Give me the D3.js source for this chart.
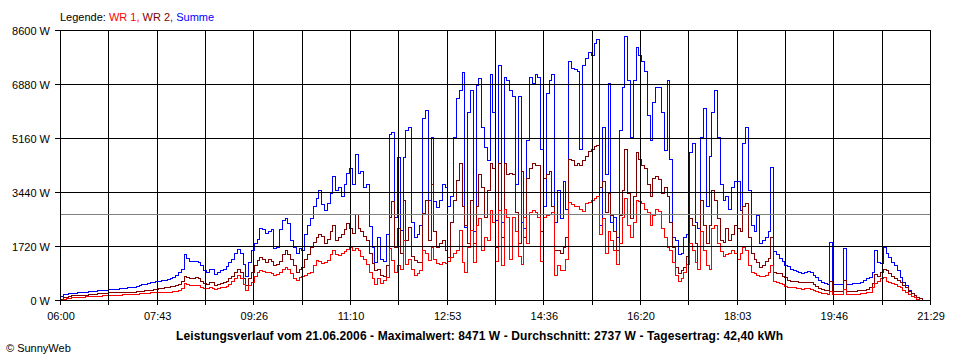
<!DOCTYPE html>
<html><head><meta charset="utf-8">
<script src="https://cdn.jsdelivr.net/npm/d3@7"></script>
<style>
body{margin:0;background:#fff;}
svg{display:block;}
text{font-family:"Liberation Sans",Arial,sans-serif;}
</style>
</head><body>
<svg id="chart" width="960" height="360"></svg>
<script>
// ---- data ----
const xTickLabels = ["06:00","07:43","09:26","11:10","12:53","14:36","16:20","18:03","19:46","21:29"];
const yTickValues = [0, 1720, 3440, 5160, 6880, 8600];
const spanMinutes = 929.5;      // 06:00 .. 21:29:30
const sampleMinutes = 3;        // one value every 3 minutes from 06:00
const averageW = 2737;
const legendItems = [["WR 1", "#ff0000"], ["WR 2", "#800000"], ["Summe", "#0000ff"]];

const summe = [
120,180,200,215,225,235,245,250,255,265,
280,290,300,305,315,320,330,340,345,350,
365,380,385,390,400,410,420,440,470,500,
520,540,560,580,600,615,630,650,670,700,
740,800,880,1000,1460,1350,1240,1230,1250,1220,
1100,950,900,1000,980,820,880,950,1000,1080,
1200,1320,1500,1640,1500,1150,750,1200,1600,1800,
1950,2300,2250,2130,2200,2250,1650,1680,2250,2550,
2600,2450,1900,1700,1500,1650,1600,2100,2400,2600,
3000,3250,3500,3050,2870,3100,3400,3950,3500,3600,
3300,3700,4050,4200,3700,4650,4050,4100,3600,3700,
2350,1700,1200,2000,1300,1250,2100,5300,5350,2650,
4550,2230,4550,5400,5500,2500,2000,2100,2400,5800,
6050,3200,5200,3150,2950,3200,3700,3600,3000,3300,
5200,6450,6700,7270,2335,6000,6700,2200,6850,7060,
5500,4880,4460,7200,6000,2550,7480,2500,7100,7000,
6700,6500,3700,6500,2500,2300,5100,7100,6900,7200,
7100,4800,3000,6600,7000,7200,2500,3500,2600,3800,
2900,7600,7400,7350,7300,4800,7500,7700,7900,7800,
8200,8300,2400,5500,4000,6900,2500,2650,2000,5400,
6800,8400,7000,5200,7000,8050,7800,7600,7300,5900,
5100,6300,6800,6800,6000,4780,7000,4500,2000,1900,
1450,1500,2000,2100,4700,5000,2500,2300,5200,6100,
3000,4600,6000,6700,5200,3700,3200,3300,2900,3600,
3800,3800,2870,5000,5500,3500,2400,2200,2700,1800,
1900,2000,2200,4250,1560,1480,1350,1250,1120,1070,
1000,960,920,880,870,880,930,900,800,720,
650,580,540,520,1850,500,500,510,520,1650,
520,520,530,540,550,584,637,690,742,900,
1600,1220,1170,1700,1490,1380,1220,1115,956,742,
584,478,318,212,160,106,50,10,0,0
];

const wr2 = [
20,80,110,130,145,155,160,165,170,175,
185,195,200,210,215,220,230,240,245,248,
250,255,258,260,262,265,270,280,290,300,
310,320,330,340,360,380,390,400,420,440,
460,490,520,600,760,720,700,710,720,700,
620,540,520,580,560,480,500,540,570,620,
700,780,900,1000,900,700,480,700,880,1100,
1270,1380,1300,1220,1300,1250,1120,1150,1250,1450,
1590,1450,1300,1120,900,980,1050,1300,1450,1700,
1850,2000,2100,2050,1800,1950,2200,2390,1900,2000,
2100,2250,2440,2300,2150,2750,2300,2200,2050,1900,
1500,1170,950,1000,800,750,1100,2650,3150,1700,
2300,1500,3200,1900,2340,1400,1270,1200,1200,2760,
3185,1900,3700,2200,1700,1800,1900,1600,1380,2500,
3185,3825,4350,3000,2400,1800,3200,1800,3000,4000,
3600,2650,3500,4350,4200,1700,4350,2000,4350,4000,
4050,4000,2800,1800,4100,2000,3900,4200,4350,4300,
4300,2200,3900,4000,4100,3000,1600,1600,1500,1700,
2000,4500,4450,4300,4350,4300,4450,4600,4750,4800,
4900,4950,3600,3800,2800,3400,2700,2200,1600,2700,
3500,4800,3400,2600,3300,4700,4500,4300,4200,3700,
3300,3900,3950,3850,3400,3600,3300,2500,1700,1050,
850,950,1050,1400,2600,2400,1800,1000,3200,2400,
1800,2400,3500,3200,2600,1900,1850,2300,1900,2100,
2400,2300,2200,3000,3100,2000,1500,1300,1200,1060,
1100,1250,1350,2000,900,870,850,780,720,650,
620,600,590,560,560,580,580,560,520,460,
380,350,330,320,600,300,290,290,290,650,
290,290,300,300,310,320,330,360,420,550,
830,780,900,1000,960,850,760,700,630,560,
480,400,300,230,160,100,50,10,0,0
];

const wr1 = [
0,30,50,70,80,90,100,105,110,115,
120,125,130,135,140,145,150,155,160,165,
170,175,178,180,185,190,195,200,210,220,
225,230,240,245,250,255,258,260,262,265,
280,300,330,380,530,500,480,480,480,470,
420,380,370,400,390,360,380,400,420,450,
520,600,700,790,700,500,330,480,580,750,
900,950,920,880,900,850,800,820,900,1000,
1060,980,850,700,640,720,780,800,850,900,
1100,1270,1250,1170,1200,1270,1450,1590,1450,1430,
1500,1550,1620,1700,1600,1650,1590,1400,1300,1150,
900,700,520,700,530,650,740,1650,1270,900,
1100,1000,1900,1150,1300,1000,800,850,950,1590,
1500,1270,1700,1300,1170,1150,1200,1170,1250,1380,
1500,1590,2230,1200,900,1700,2230,1200,2400,2600,
1600,2000,1900,2860,2500,1250,2860,1100,2900,2650,
1300,2650,2200,1400,1150,2650,1800,2800,2860,2800,
2650,1250,2650,2700,2750,2800,800,1100,950,950,
1300,3130,3050,3000,3000,2900,2850,3100,3130,3200,
3250,3300,2100,2600,1500,2200,1900,1600,1150,1800,
2650,3250,2400,2000,2500,3200,3150,3100,2900,2800,
2400,2700,2900,2850,2300,2000,1700,1600,1200,800,
600,700,900,1150,1800,1600,1200,1000,2200,1600,
1100,1000,2300,2400,1800,1550,1400,1450,1500,1600,
1500,1300,1500,1700,1600,1100,900,850,800,750,
760,800,880,1100,600,560,540,500,450,430,
410,400,380,370,360,370,370,350,320,280,
240,220,210,200,300,190,190,190,185,350,
185,180,185,190,200,210,230,240,260,400,
530,600,700,720,620,580,540,500,460,400,
330,260,190,130,80,40,15,0,0,0
];

const titleText = "Leistungsverlauf vom 21.06.2006 - Maximalwert: 8471 W - Durchschnitt: 2737 W - Tagesertrag: 42,40 kWh";
const copyrightText = "\u00A9 SunnyWeb";

// ---- drawing ----
const svg = d3.select("#chart");
const L = 60, R = 930, T = 30, B = 300;
const x = d3.scaleLinear().domain([0, spanMinutes]).range([L, R]);
const y = d3.scaleLinear().domain([0, 8600]).range([B, T]);
const px = v => Math.round(v) + 0.5;

// series
const line = d3.line()
  .x((d, i) => px(x(i * sampleMinutes)))
  .y(d => px(y(d)))
  .curve(d3.curveStepAfter);

const series = [[summe, "#0000ff"], [wr2, "#800000"], [wr1, "#ff0000"]];
series.forEach(([data, color]) => {
  svg.append("path").datum(data)
    .attr("d", line)
    .attr("fill", "none")
    .attr("stroke", color)
    .attr("stroke-width", 1)
    .attr("shape-rendering", "crispEdges");
});

// grid
const gridX = d3.range(19).map(k => k * spanMinutes / 18);
const g = svg.append("g").attr("shape-rendering", "crispEdges");
g.selectAll("line.v").data(gridX).join("line")
  .attr("x1", d => px(x(d))).attr("x2", d => px(x(d)))
  .attr("y1", T).attr("y2", B + 5)
  .attr("stroke", "#000").attr("stroke-width", 1);
g.selectAll("line.h").data(yTickValues).join("line")
  .attr("x1", L - 5).attr("x2", R + 1)
  .attr("y1", d => px(y(d))).attr("y2", d => px(y(d)))
  .attr("stroke", "#000").attr("stroke-width", 1);

// average line
svg.append("line")
  .attr("x1", L + 1).attr("x2", R)
  .attr("y1", px(y(averageW))).attr("y2", px(y(averageW)))
  .attr("stroke", "#808080").attr("stroke-width", 1)
  .attr("shape-rendering", "crispEdges");

// axes labels via d3 axes
const majorX = d3.range(10).map(k => k * spanMinutes / 9);
const xAxis = d3.axisBottom(x).tickValues(majorX)
  .tickFormat((d, i) => xTickLabels[i]).tickSize(0);
const xa = svg.append("g").attr("transform", `translate(0.5,${B})`).call(xAxis);
xa.select(".domain").remove();
xa.selectAll("text").attr("y", 20).attr("dy", 0)
  .attr("font-size", 11).attr("fill", "#000")
  .attr("font-family", "'Liberation Sans', Arial, sans-serif");

const yAxis = d3.axisLeft(y).tickValues(yTickValues)
  .tickFormat(d => d + " W").tickSize(0).tickPadding(10);
const ya = svg.append("g").attr("transform", `translate(${L},0.5)`).call(yAxis);
ya.select(".domain").remove();
ya.selectAll("text").attr("dy", "0.33em")
  .attr("font-size", 11).attr("fill", "#000")
  .attr("font-family", "'Liberation Sans', Arial, sans-serif");

// legend
const leg = svg.append("text").attr("x", 60).attr("y", 21).attr("font-size", 11);
leg.append("tspan").attr("fill", "#000").text("Legende: ");
legendItems.forEach(([name, color], i) => {
  leg.append("tspan").attr("fill", color)
    .text(name + (i < legendItems.length - 1 ? ", " : ""));
});

// title
svg.append("text").attr("x", 479.5).attr("y", 340)
  .attr("text-anchor", "middle").attr("font-size", 12).attr("font-weight", "bold")
  .attr("textLength", 607).attr("lengthAdjust", "spacing")
  .text(titleText);

// copyright
svg.append("text").attr("x", 6).attr("y", 352).attr("font-size", 11).text(copyrightText);
</script>
</body></html>
